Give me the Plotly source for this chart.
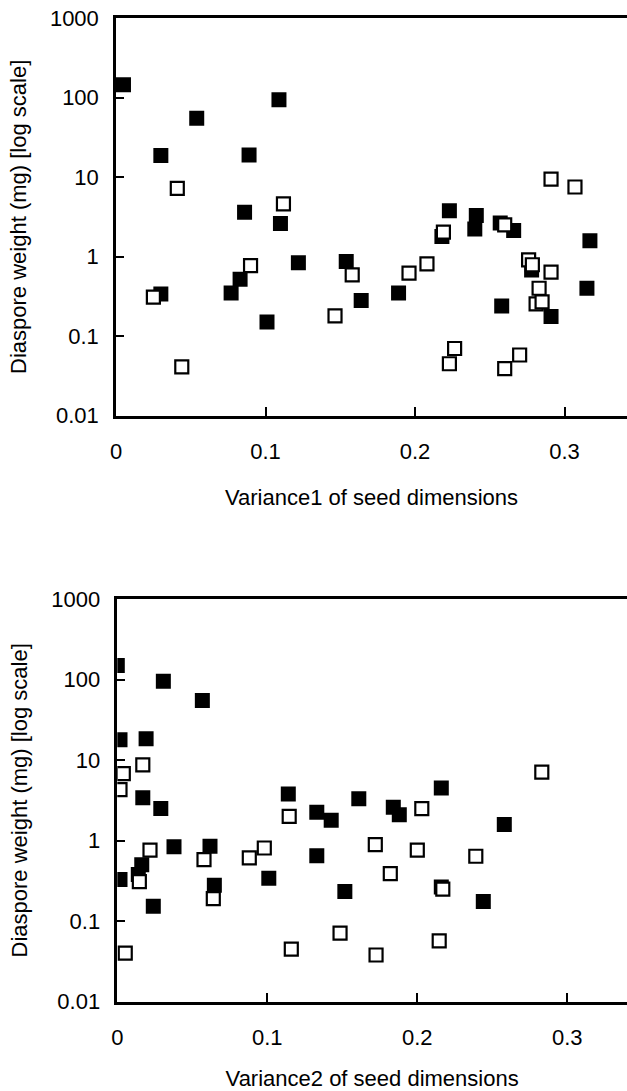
import plotly.graph_objects as go

# ---- Data: Variance1 (top panel) ----
filled_x1 = [0.005, 0.030, 0.054, 0.089, 0.109, 0.086, 0.110, 0.122, 0.154, 0.083, 0.077, 0.030, 0.101,
             0.164, 0.189, 0.223, 0.241, 0.240, 0.218, 0.257, 0.266, 0.278, 0.258, 0.291, 0.317, 0.315]
filled_y1 = [145, 18.7, 55, 19, 94, 3.6, 2.6, 0.84, 0.87, 0.52, 0.35, 0.34, 0.151,
             0.28, 0.35, 3.77, 3.29, 2.22, 1.79, 2.64, 2.13, 0.68, 0.24, 0.177, 1.58, 0.40]
open_x1 = [0.041, 0.112, 0.090, 0.025, 0.044, 0.158, 0.1465, 0.196, 0.208, 0.219, 0.223, 0.2265,
           0.260, 0.260, 0.270, 0.276, 0.2785, 0.291, 0.283, 0.281, 0.285, 0.291, 0.307]
open_y1 = [7.2, 4.6, 0.77, 0.31, 0.041, 0.59, 0.18, 0.62, 0.81, 2.03, 0.045, 0.070,
           2.51, 0.039, 0.058, 0.91, 0.79, 0.64, 0.40, 0.255, 0.27, 9.4, 7.5]

# ---- Data: Variance2 (bottom panel) ----
filled_x2 = [0.000, 0.0307, 0.0567, 0.0018, 0.0192, 0.017, 0.029, 0.114, 0.133, 0.1426, 0.161, 0.184,
             0.188, 0.216, 0.258, 0.0378, 0.0618, 0.0163, 0.014, 0.0018, 0.0647, 0.101, 0.133, 0.1517,
             0.024, 0.244, 0.216]
filled_y2 = [149, 95, 55, 17.9, 18.4, 3.4, 2.5, 3.8, 2.25, 1.79, 3.3, 2.59,
             2.1, 4.5, 1.58, 0.84, 0.85, 0.50, 0.38, 0.33, 0.28, 0.34, 0.65, 0.234,
             0.153, 0.176, 0.266]
open_x2 = [0.017, 0.004, 0.0018, 0.283, 0.0218, 0.0147, 0.0578, 0.064, 0.088, 0.098, 0.1146,
           0.172, 0.182, 0.203, 0.200, 0.217, 0.239, 0.0053, 0.116, 0.1485, 0.1725, 0.2146]
open_y2 = [8.7, 6.8, 4.3, 7.1, 0.76, 0.31, 0.58, 0.19, 0.61, 0.81, 2.0,
           0.89, 0.39, 2.5, 0.76, 0.25, 0.64, 0.040, 0.045, 0.071, 0.038, 0.057]

y_tickvals = [0.01, 0.1, 1, 10, 100, 1000]
y_ticktext = ["0.01", "0.1", "1", "10", "100", "1000"]
x_tickvals = [0, 0.1, 0.2, 0.3]
x_ticktext = ["0", "0.1", "0.2", "0.3"]
x_titles = ["Variance1 of seed dimensions", "Variance2 of seed dimensions"]
y_title = "Diaspore weight (mg) [log scale]"

FONT = "Liberation Sans, Arial, Helvetica, sans-serif"
FS = 22
W, H = 627, 1091

fig = go.Figure()

def add_panel(fx, fy, ox, oy, xa, ya):
    fig.add_trace(go.Scatter(x=fx, y=fy, mode="markers", xaxis=xa, yaxis=ya, showlegend=False,
                             marker=dict(symbol="square", size=15, color="black", line=dict(width=0))))
    fig.add_trace(go.Scatter(x=ox, y=oy, mode="markers", xaxis=xa, yaxis=ya, showlegend=False,
                             marker=dict(symbol="square", size=13, color="white",
                                         line=dict(width=2.2, color="black"))))

add_panel(filled_x1, filled_y1, open_x1, open_y1, "x", "y")
add_panel(filled_x2, filled_y2, open_x2, open_y2, "x2", "y2")

tickfont = dict(family=FONT, size=FS, color="black")
common_x = dict(tickvals=x_tickvals, ticktext=x_ticktext, ticks="inside", ticklen=9, tickwidth=1.5,
                tickcolor="black", showline=True, linewidth=2.5, linecolor="black", mirror=True,
                showgrid=False, zeroline=False, tickfont=tickfont, ticklabelstandoff=14,
                automargin=False, ticklabeloverflow="allow")
common_y = dict(type="log", range=[-2, 3], tickvals=y_tickvals, ticktext=y_ticktext, ticks="inside",
                ticklen=8, tickwidth=1.5, tickcolor="black", showline=True, linewidth=2.5,
                linecolor="black", showgrid=False, zeroline=False, tickfont=tickfont,
                ticklabelstandoff=10, automargin=False, ticklabeloverflow="allow")

# pixel geometry (page coordinates)
L = 116
top_y0, top_y1 = 18, 415.7
bot_y0, bot_y1 = 599, 1001.7
PW = W - L

fig.update_layout(
    width=W, height=H, margin=dict(l=L, r=0, t=0, b=0, autoexpand=False),
    paper_bgcolor="white", plot_bgcolor="white",
    xaxis=dict(domain=[0, 1], anchor="y", range=[0, PW / 1495.0],
               title=dict(text=x_titles[0], font=tickfont, standoff=27), **common_x),
    yaxis=dict(domain=[1 - top_y1 / H, 1 - top_y0 / H], anchor="x",
               title=dict(text=y_title, font=tickfont, standoff=18), **common_y),
    xaxis2=dict(domain=[1.3 / PW, 1], anchor="y2", range=[0, (PW - 1.3) / 1500.0],
                title=dict(text=x_titles[1], font=tickfont, standoff=27), **common_x),
    yaxis2=dict(domain=[1 - bot_y1 / H, 1 - bot_y0 / H], anchor="x2",
                title=dict(text=y_title, font=tickfont, standoff=18), **common_y),
)

fig.write_html("out.html", config={"displayModeBar": False},
               post_script="document.body.style.margin='0';document.body.style.overflow='hidden';")
